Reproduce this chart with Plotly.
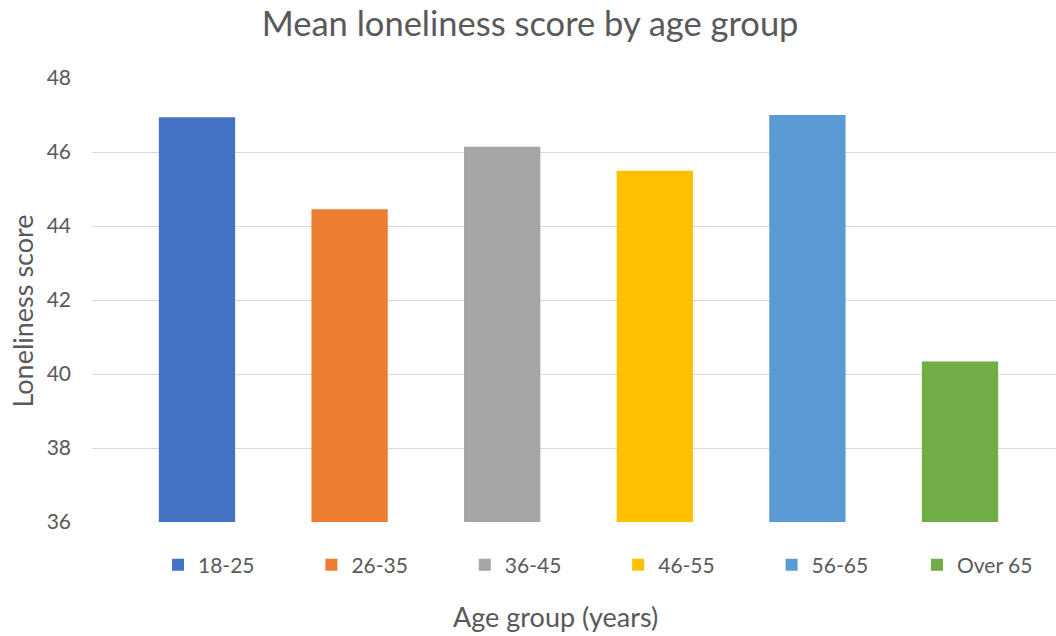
import plotly.graph_objects as go

categories = ["18-25", "26-35", "36-45", "46-55", "56-65", "Over 65"]
values = [46.94, 44.45, 46.14, 45.49, 47.0, 40.34]
colors = ["#4472C4", "#ED7D31", "#A5A5A5", "#FFC000", "#5B9BD5", "#70AD47"]
y_ticks = [36, 38, 40, 42, 44, 46, 48]

FONT = "Lato, 'Open Sans', sans-serif"
GREY = "#595959"

fig = go.Figure()
for i, (cat, val, col) in enumerate(zip(categories, values, colors)):
    fig.add_trace(go.Bar(
        x=[i], y=[val], name=cat, width=0.5,
        marker=dict(color=col, line=dict(width=0)),
        legend="legend2" if i == len(categories) - 1 else "legend",
    ))

legend_common = dict(orientation="h", xref="paper", yref="paper", xanchor="left",
                     y=-0.097, yanchor="middle", entrywidthmode="pixels",
                     font=dict(family=FONT, size=21, color=GREY),
                     traceorder="normal", itemclick=False)

fig.update_layout(
    width=1056, height=636,
    margin=dict(l=92, r=0, t=78, b=114),
    plot_bgcolor="white", paper_bgcolor="white",
    barmode="overlay",
    title=dict(text="Mean loneliness score by age group", x=0.502, xref="container",
               xanchor="center", y=0.962, yanchor="middle",
               font=dict(family=FONT, size=34.5, color=GREY)),
    xaxis=dict(range=[-0.688, 5.629], showticklabels=False, showgrid=False,
               zeroline=False, showline=False, ticks=""),
    yaxis=dict(range=[36, 48], tickvals=y_ticks, showgrid=True, gridcolor="#D9D9D9",
               gridwidth=1, zeroline=False, showline=False, ticks="",
               tickfont=dict(family=FONT, size=21, color=GREY),
               ticklabelstandoff=20),
    legend=dict(x=(158 - 92) / 964, entrywidth=108.4, **legend_common),
    legend2=dict(x=(917 - 92) / 964, entrywidth=85, **legend_common),
    annotations=[
        dict(text="Age group (years)", xref="paper", yref="paper",
             x=0.481, y=-0.213, xanchor="center", yanchor="middle", showarrow=False,
             font=dict(family=FONT, size=27, color=GREY)),
        dict(text="Loneliness score", xref="paper", yref="paper", textangle=-90,
             x=-0.0721, y=0.475, xanchor="center", yanchor="middle", showarrow=False,
             font=dict(family=FONT, size=27, color=GREY)),
    ],
)

fig.write_html("out.html")
